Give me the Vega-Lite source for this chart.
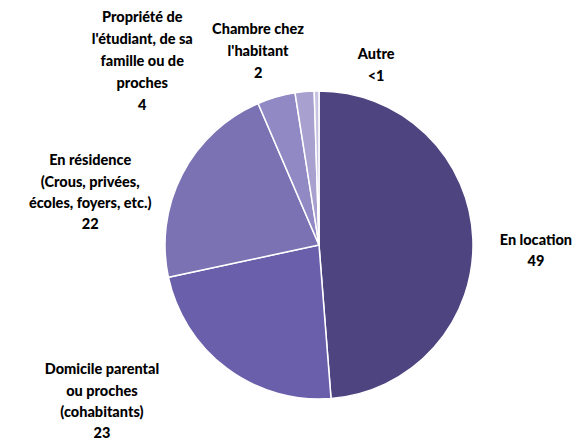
{
  "$schema": "https://vega.github.io/schema/vega-lite/v6.json",
  "width": 308,
  "height": 308,
  "autosize": "none",
  "padding": {"left": 165, "top": 91, "right": 106, "bottom": 42},
  "background": "white",
  "config": {"view": {"stroke": null}, "text": {"font": "Lato", "fontWeight": 900, "fontSize": 14.5, "fill": "#000000"}},
  "data": {"values": [
    {"cat": "En location", "value": 49, "order": 1, "label": ["En location", "49"]},
    {"cat": "Domicile parental", "value": 23, "order": 2, "label": ["Domicile parental", "ou proches", "(cohabitants)", "23"]},
    {"cat": "En résidence", "value": 22, "order": 3, "label": ["En résidence", "(Crous, privées,", "écoles, foyers, etc.)", "22"]},
    {"cat": "Propriété", "value": 4, "order": 4, "label": ["Propriété de", "l'étudiant, de sa", "famille ou de", "proches", "4"]},
    {"cat": "Chambre", "value": 2, "order": 5, "label": ["Chambre chez", "l'habitant", "2"]},
    {"cat": "Autre", "value": 0.5, "order": 6, "label": ["Autre", "<1"]}
  ]},
  "encoding": {
    "theta": {"field": "value", "type": "quantitative", "stack": true},
    "order": {"field": "order", "type": "quantitative"}
  },
  "layer": [
    {
      "mark": {"type": "arc", "stroke": "white", "strokeWidth": 1.5},
      "encoding": {
        "color": {"field": "cat", "type": "nominal", "legend": null,
          "scale": {"domain": ["En location", "Domicile parental", "En résidence", "Propriété", "Chambre", "Autre"],
                    "range": ["#4e4480", "#6a5fab", "#7b72b4", "#9189c4", "#a8a1d0", "#c7c2e1"]}}
      }
    },
    {
      "mark": {"type": "text", "radius": 154, "dx": 63, "dy": 1.75, "lineHeight": 21.5, "align": "center", "baseline": "middle"},
      "encoding": {"text": {"condition": {"test": "datum.cat === 'En location'", "field": "label"}, "value": ""}}
    },
    {
      "mark": {"type": "text", "radius": 154, "dx": -125, "dy": 2, "lineHeight": 21.3, "align": "center", "baseline": "middle"},
      "encoding": {"text": {"condition": {"test": "datum.cat === 'Domicile parental'", "field": "label"}, "value": ""}}
    },
    {
      "mark": {"type": "text", "radius": 154, "dx": -92, "dy": -13, "lineHeight": 21.3, "align": "center", "baseline": "middle"},
      "encoding": {"text": {"condition": {"test": "datum.cat === 'En résidence'", "field": "label"}, "value": ""}}
    },
    {
      "mark": {"type": "text", "radius": 154, "dx": -134, "dy": -79, "lineHeight": 22, "align": "center", "baseline": "middle"},
      "encoding": {"text": {"condition": {"test": "datum.cat === 'Propriété'", "field": "label"}, "value": ""}}
    },
    {
      "mark": {"type": "text", "radius": 154, "dx": -46.5, "dy": -62, "lineHeight": 22, "align": "center", "baseline": "middle"},
      "encoding": {"text": {"condition": {"test": "datum.cat === 'Chambre'", "field": "label"}, "value": ""}}
    },
    {
      "mark": {"type": "text", "radius": 154, "dx": 59.5, "dy": -36, "lineHeight": 22, "align": "center", "baseline": "middle"},
      "encoding": {"text": {"condition": {"test": "datum.cat === 'Autre'", "field": "label"}, "value": ""}}
    }
  ]
}
